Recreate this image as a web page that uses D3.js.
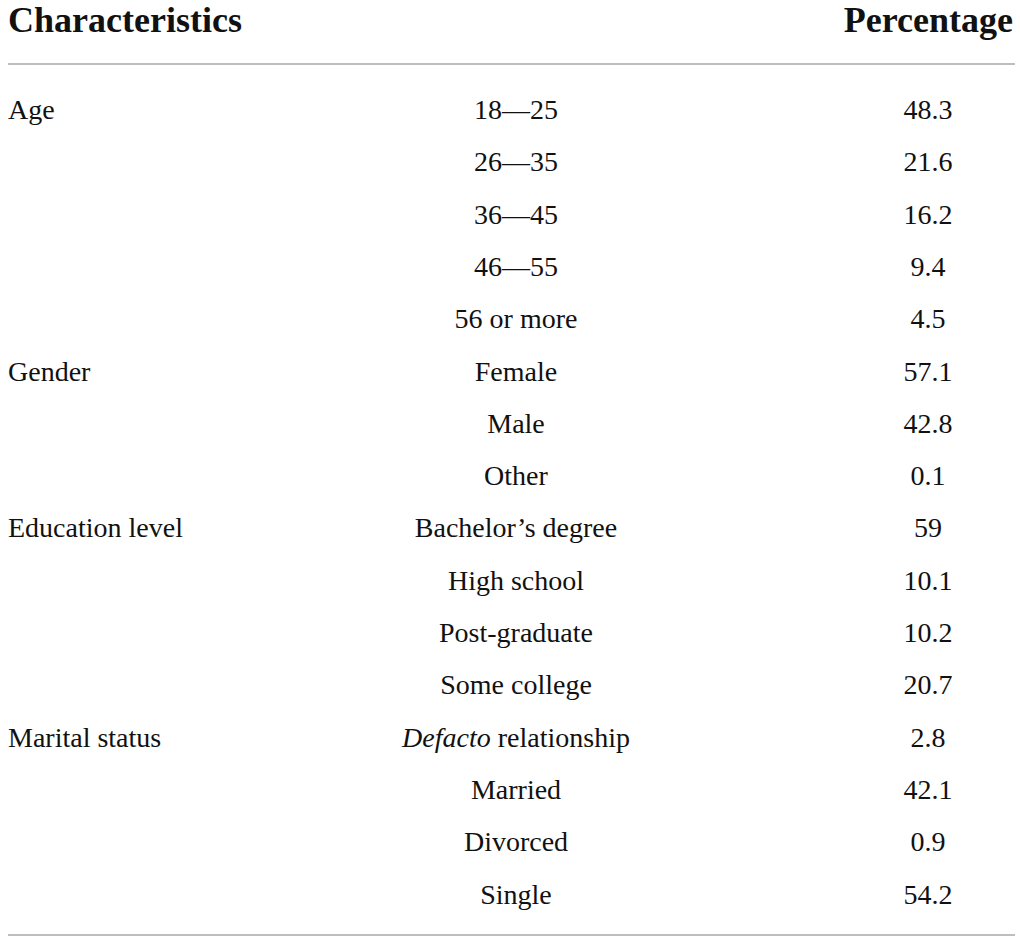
<!DOCTYPE html>
<html>
<head>
<meta charset="utf-8">
<script src="https://cdn.jsdelivr.net/npm/d3@7"></script>
<style>
  body { margin: 0; background: #fff; }
  svg text { font-family: "Liberation Serif", "DejaVu Serif", serif; fill: #111; }
</style>
</head>
<body>
<div id="table"></div>
<script>
// table content
const headers = ["Characteristics", "Percentage"];
const groups = ["Age", "Gender", "Education level", "Marital status"];
const groupSizes = [5, 3, 4, 4];
const categories = ["18\u201425", "26\u201435", "36\u201445", "46\u201455", "56 or more",
      "Female", "Male", "Other",
      "Bachelor\u2019s degree", "High school", "Post-graduate", "Some college",
      "Defacto relationship", "Married", "Divorced", "Single"];
const percentages = ["48.3", "21.6", "16.2", "9.4", "4.5",
      "57.1", "42.8", "0.1",
      "59", "10.1", "10.2", "20.7",
      "2.8", "42.1", "0.9", "54.2"];

const w = 1020;
const h = 941;

const svg = d3.select("#table")
      .append("svg")
      .attr("width", w)
      .attr("height", h);

// rows
const y = d3.scaleBand()
      .domain(d3.range(categories.length))
      .range([83, 920]);

const colX = { left: 8, mid: 516, right: 928 };

// header
svg.append("text")
      .attr("x", colX.left)
      .attr("y", 32)
      .style("font-size", "36px")
      .style("font-weight", "bold")
      .text(headers[0]);

svg.append("text")
      .attr("x", 1013)
      .attr("y", 32)
      .attr("text-anchor", "end")
      .style("font-size", "36px")
      .style("font-weight", "bold")
      .text(headers[1]);

// rules
svg.selectAll(".rule")
      .data([64, 935])
      .enter()
      .append("line")
      .attr("class", "rule")
      .attr("x1", 8)
      .attr("x2", 1015)
      .attr("y1", (d) => d)
      .attr("y2", (d) => d)
      .style("stroke", "#a9a9a9")
      .style("stroke-width", 1.5);

// group labels sit on the first row of each group
const groupStart = groupSizes.map((s, i) => d3.sum(groupSizes.slice(0, i)));

svg.selectAll(".group")
      .data(groups)
      .enter()
      .append("text")
      .attr("class", "group")
      .attr("x", colX.left)
      .attr("y", (d, i) => y(groupStart[i]) + y.bandwidth() / 2)
      .attr("dy", "0.35em")
      .style("font-size", "28px")
      .text((d) => d);

const cat = svg.selectAll(".cat")
      .data(categories)
      .enter()
      .append("text")
      .attr("class", "cat")
      .attr("x", colX.mid)
      .attr("y", (d, i) => y(i) + y.bandwidth() / 2)
      .attr("dy", "0.35em")
      .attr("text-anchor", "middle")
      .style("font-size", "28px");

cat.each(function (d) {
      const t = d3.select(this);
      if (d.startsWith("Defacto")) {
            t.append("tspan").style("font-style", "italic").text("Defacto");
            t.append("tspan").text(d.slice(7));
      } else {
            t.text(d);
      }
});

svg.selectAll(".pct")
      .data(percentages)
      .enter()
      .append("text")
      .attr("class", "pct")
      .attr("x", colX.right)
      .attr("y", (d, i) => y(i) + y.bandwidth() / 2)
      .attr("dy", "0.35em")
      .attr("text-anchor", "middle")
      .style("font-size", "28px")
      .text((d) => d);
</script>
</body>
</html>
